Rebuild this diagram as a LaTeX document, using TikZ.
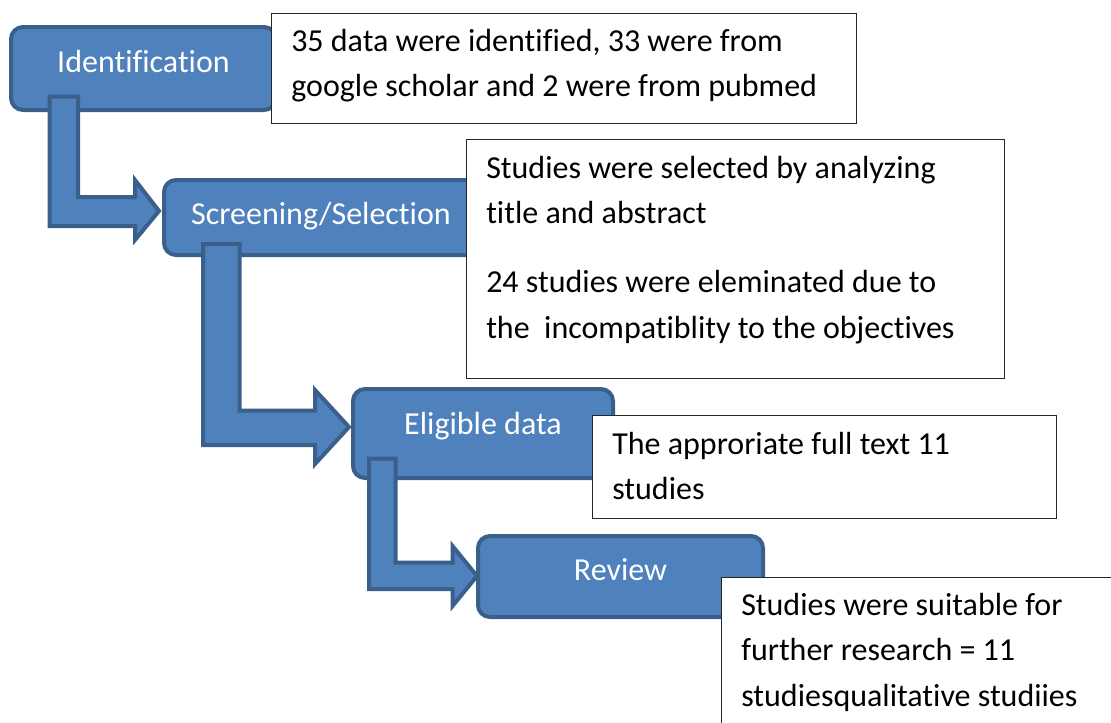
\documentclass[tikz,border=0pt]{standalone}
\usepackage{fontspec}
\setmainfont{Carlito}[Ligatures={NoCommon,NoRequired,NoContextual}]
\definecolor{stfill}{HTML}{4F81BD}
\definecolor{stline}{HTML}{3A5F8B}
\begin{document}
\begin{tikzpicture}[x=0.75pt,y=-0.75pt,
  stage/.style={draw=stline, fill=stfill, line width=3pt, rounded corners=9pt, inner sep=0pt},
  stagelabel/.style={text=white, font=\fontsize{24}{33}\selectfont, inner sep=0pt, anchor=base},
  flow/.style={draw=stline, fill=stfill, line width=3pt, line join=miter},
  notebox/.style={draw=black!85, fill=white, line width=1pt, inner sep=0pt, anchor=north west},
  notetext/.style={font=\fontsize{24}{33.8}\selectfont, align=left, inner sep=0pt, anchor=base west}]
\useasboundingbox (0,0) rectangle (1111,722);
\clip (0,0) rectangle (1111,722);

% stage 1
\node[stage, minimum width=265*0.75pt, minimum height=83*0.75pt] (id) at (143.5,68.5) {};
\node[stagelabel] (idl) at (143.5,72) {Identification};
\draw[flow] (49.5,96.5) -- (78,96.5) -- (78,197) -- (135,197) -- (135,180) -- (159,211)
  -- (135,240) -- (135,226) -- (49.5,226) -- cycle;

% stage 2
\node[stage, minimum width=314*0.75pt, minimum height=75*0.75pt] (scr) at (321,217.5) {};
\node[stagelabel] (scrl) at (321,224) {Screening/Selection};
\draw[flow] (203,244) -- (239.5,244) -- (239.5,410.5) -- (315,410.5) -- (315,390) -- (349,427)
  -- (315,464) -- (315,445) -- (203,445) -- cycle;

% stage 3
\node[stage, minimum width=260*0.75pt, minimum height=89*0.75pt] (eli) at (483,433.5) {};
\node[stagelabel] (elil) at (483,434) {Eligible data};
\draw[flow] (369,458.5) -- (395.5,458.5) -- (395.5,562.5) -- (452.5,562.5) -- (452.5,546) -- (477,576)
  -- (452.5,606) -- (452.5,589) -- (369,589) -- cycle;

% stage 4
\node[stage, minimum width=285*0.75pt, minimum height=81*0.75pt] (rev) at (620.5,576.5) {};
\node[stagelabel] (revl) at (620.5,580) {Review};

% note boxes (text anchored at the baseline of its last line)
\node[notebox, minimum width=585*0.75pt, minimum height=110*0.75pt] (n1) at (271,13) {};
\node[notetext] (n1t) at (291,96.5) {35 data were identified, 33 were from\\google scholar and 2 were from pubmed};

\node[notebox, minimum width=538*0.75pt, minimum height=239*0.75pt] (n2) at (466,139) {};
\node[notetext] (n2t) at (486,338) {Studies were selected by analyzing\\title and abstract\\[18.5pt]24 studies were eleminated due to\\the~~incompatiblity to the objectives};

\node[notebox, minimum width=464*0.75pt, minimum height=103*0.75pt] (n3) at (592,415) {};
\node[notetext] (n3t) at (612,499.5) {The approriate full text 11\\studies};

\node[notebox, minimum width=400*0.75pt, minimum height=158*0.75pt] (n4) at (721,577) {};
\node[notetext] (n4t) at (741,706) {Studies were suitable for\\further research = 11\\studiesqualitative studiies};
\end{tikzpicture}
\end{document}
